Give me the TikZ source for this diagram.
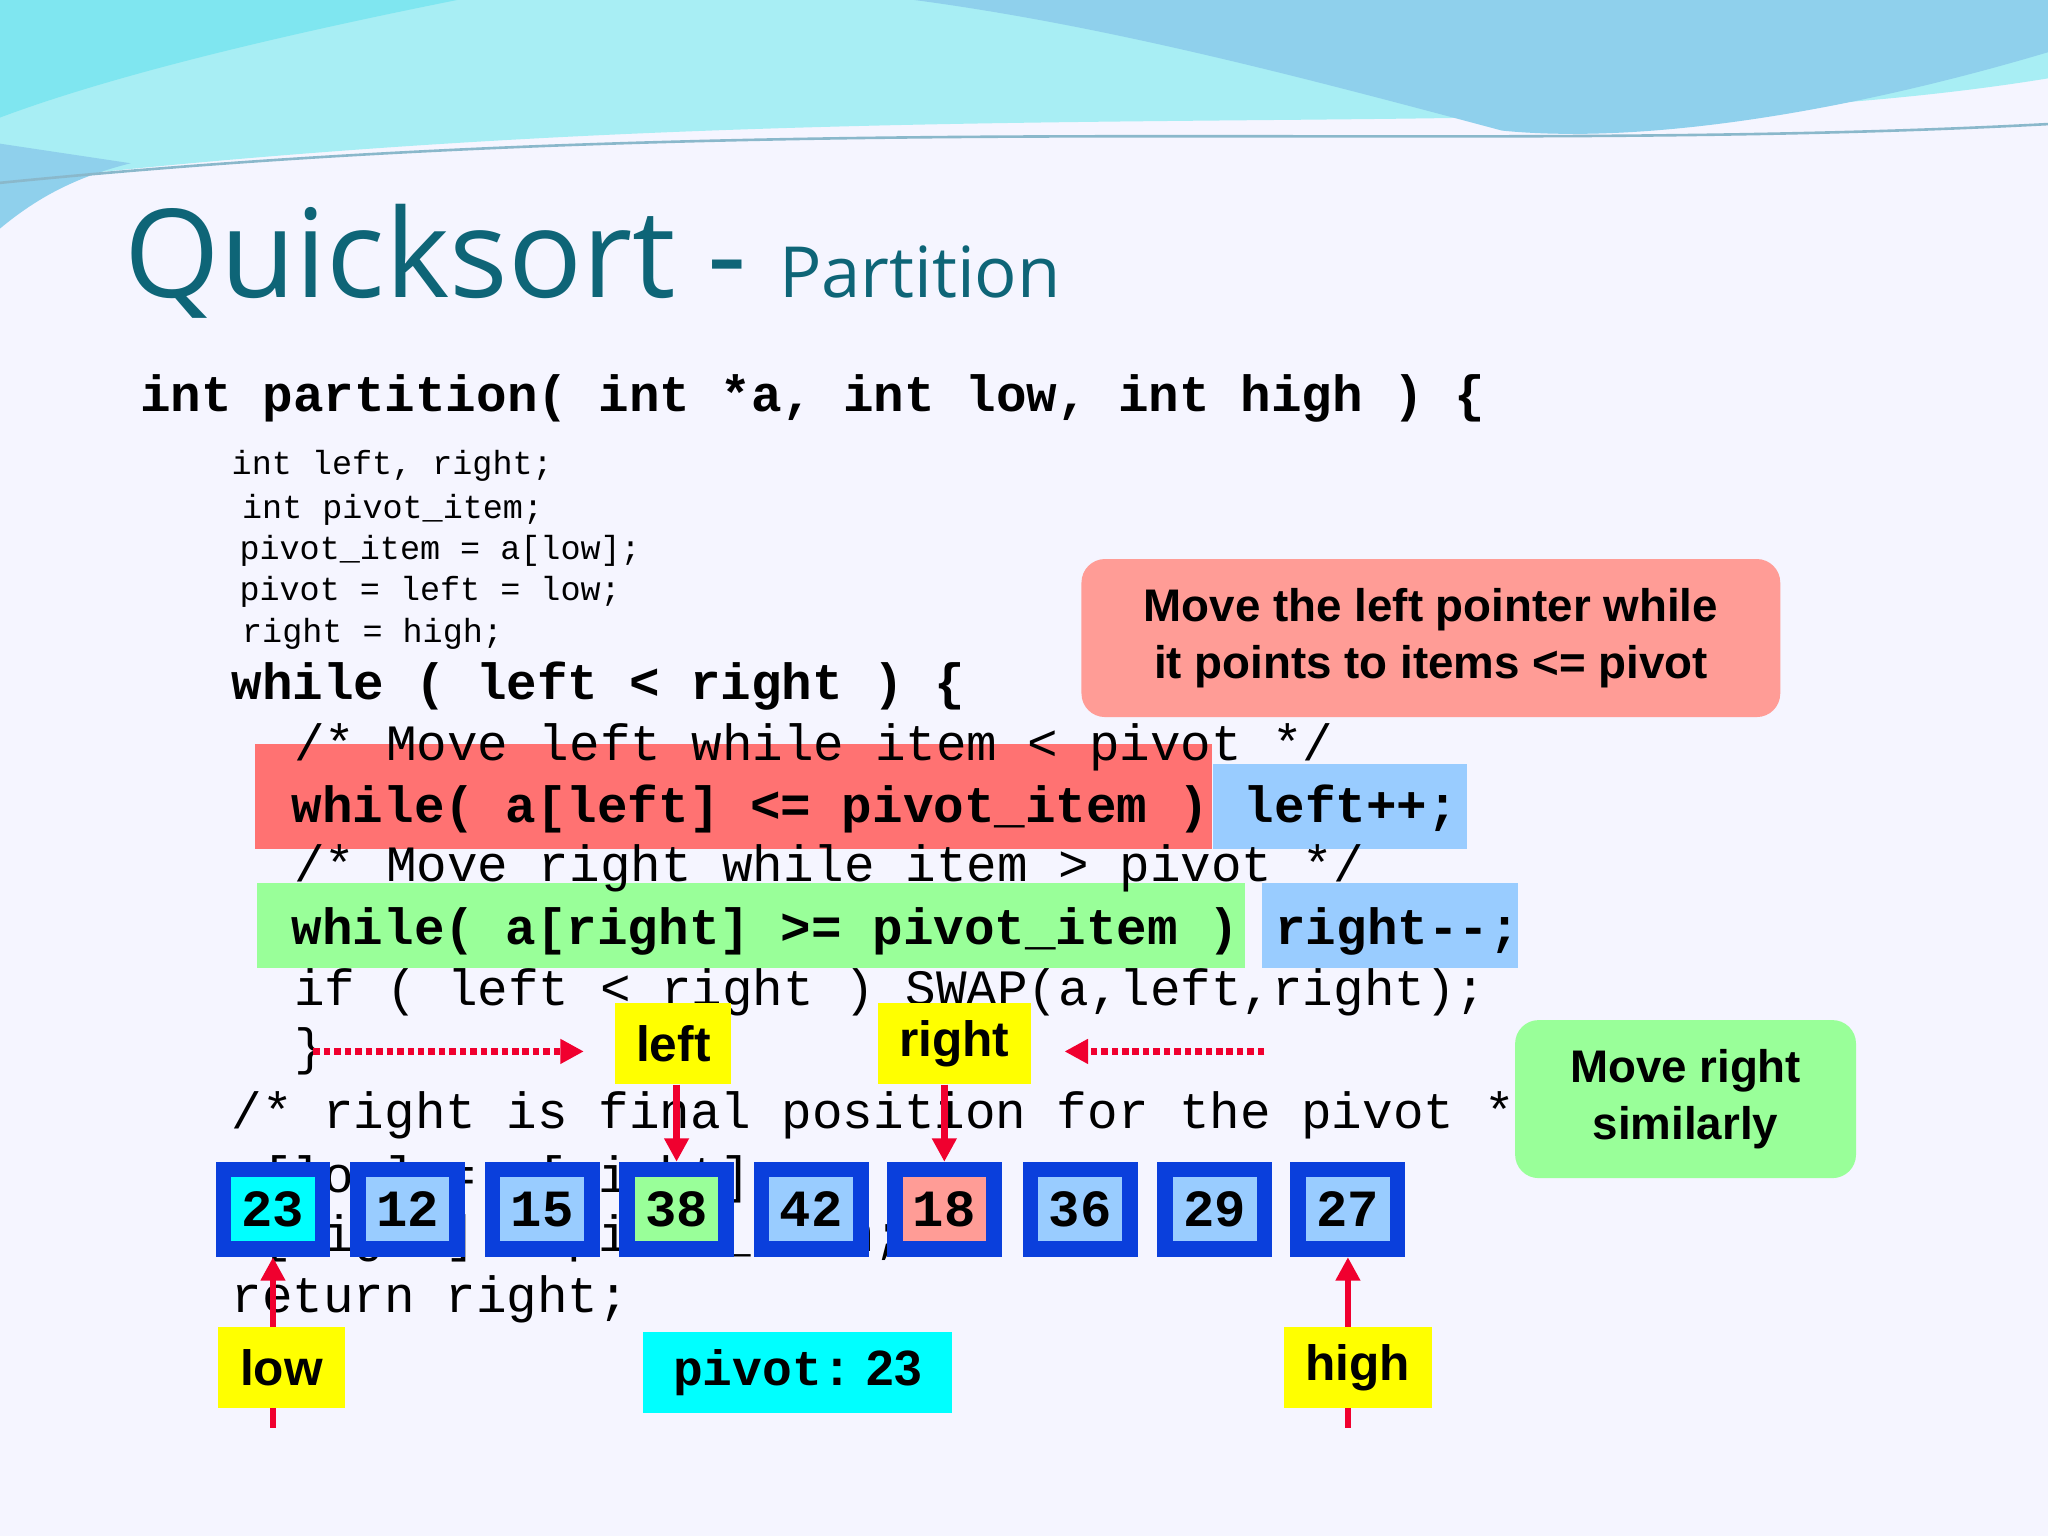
\documentclass[tikz,border=0pt]{standalone}
\usepackage{fontspec}
\usetikzlibrary{arrows.meta}
\setmainfont{Liberation Sans}
\newfontfamily\monof{Liberation Mono}
\newfontfamily\titlef{Open Sans}
\definecolor{teal1}{HTML}{0E6577}
\definecolor{hred}{HTML}{FF7272}
\definecolor{hblue}{HTML}{99CCFF}
\definecolor{hgreen}{HTML}{99FF99}
\definecolor{bblue}{HTML}{0A3FDC}
\definecolor{ared}{HTML}{F0002F}
\definecolor{cpink}{HTML}{FF9C96}
\definecolor{acyan}{HTML}{00FFFF}
\definecolor{ayel}{HTML}{FFFF00}
\definecolor{wave1}{HTML}{A8EEF4}
\definecolor{wave2}{HTML}{8FD0EC}
\definecolor{wave3}{HTML}{7FE6F0}
\begin{document}
\begin{tikzpicture}[x=0.5pt,y=-0.5pt,
  code/.style={anchor=west,inner sep=0pt,font=\monof\fontsize{19.5}{20}\selectfont},
  bcode/.style={code,font=\monof\bfseries\fontsize{19.5}{20}\selectfont},
  scode/.style={anchor=west,inner sep=0pt,font=\monof\fontsize{12.8}{14}\selectfont},
  cell/.style={draw=bblue,line width=6pt,minimum width=38pt,minimum height=30.5pt,inner sep=0pt,font=\monof\bfseries\fontsize{20}{20}\selectfont},
  lab/.style={fill=ayel,inner sep=0pt,font=\bfseries\fontsize{19}{20}\selectfont},
  arr/.style={ared,line width=2.5pt,-{Triangle[length=9pt,width=9pt]}},
  darr/.style={ared,line width=2.5pt,dash pattern=on 2.5pt off 1.5pt,-{Triangle[length=9pt,width=9pt,sep=0pt]}}]
\useasboundingbox (0,0) rectangle (1568,1176);
\fill[white!96!blue] (0,0) rectangle (1568,1176);
% top waves
\fill[wave1] (0,0) -- (1568,0) -- (1568,60) .. controls (1200,120) and (700,60) .. (0,140) -- cycle;
\fill[wave2] (700,0) -- (1568,0) -- (1568,40) .. controls (1400,90) and (1250,110) .. (1150,100) .. controls (1000,60) and (850,20) .. (700,0) -- cycle;
\fill[wave3] (0,0) -- (350,0) .. controls (200,30) and (80,60) .. (0,90) -- cycle;
\fill[wave2] (0,110) -- (0,175) .. controls (30,150) and (60,135) .. (100,125) -- cycle;
\draw[wave2!70!gray,line width=1pt] (0,140) .. controls (600,80) and (1100,120) .. (1568,95);
% title
\node[anchor=base west,inner sep=0pt,text=teal1] (title) at (95,228) {\titlef\fontsize{47}{47}\selectfont Quicksort - {\fontsize{27}{27}\selectfont Partition}};
% highlights
\fill[hred] (195,570) rectangle (928,650);
\fill[hblue] (929,585) rectangle (1123,650);
\fill[hgreen] (197,676) rectangle (953,741);
\fill[hblue] (966,676) rectangle (1162,741);
% code
\node[bcode] (hdr) at (107,305) {int partition( int *a, int low, int high ) \{};
\node[scode] (c1) at (177,357) {int left, right;};
\node[scode] (c2) at (185,390) {int pivot\_item;};
\node[scode] (c3) at (183,422) {pivot\_item = a[low];};
\node[scode] (c4) at (183,453) {pivot = left = low;};
\node[scode] (c5) at (185,485) {right = high;};
\node[bcode] (c6) at (177,525) {while ( left < right ) \{};
\node[code] (c7) at (225,572) {/* Move left while item < pivot */};
\node[bcode] (c8) at (223,619) {while( a[left] <= pivot\_item )};
\node[bcode] (c9) at (952,619) {left++;};
\node[code] (c10) at (225,665) {/* Move right while item > pivot */};
\node[bcode] (c11) at (223,713) {while( a[right] >= pivot\_item )};
\node[bcode] (c12) at (976,713) {right--;};
\node[code] (c13) at (225,760) {if ( left < right ) SWAP(a,left,right);};
\node[code] (c14) at (225,805) {\}};
\node[code] (c15) at (177,854) {/* right is final position for the pivot */};
\node[code] (c16) at (177,903) {a[low] = a[right];};
\node[code] (c17) at (177,948) {a[right] = pivot\_item;};
\node[code] (c18) at (177,995) {return right;};
% array
\node[cell,fill=acyan] (a1) at (209,926) {23};
\node[cell,fill=hblue] (a2) at (312,926) {12};
\node[cell,fill=hblue] (a3) at (415,926) {15};
\node[cell,fill=hgreen] (a4) at (518,926) {38};
\node[cell,fill=hblue] (a5) at (621,926) {42};
\node[cell,fill=cpink] (a6) at (723,926) {18};
\node[cell,fill=hblue] (a7) at (827,926) {36};
\node[cell,fill=hblue] (a8) at (930,926) {29};
\node[cell,fill=hblue] (a9) at (1032,926) {27};
% arrows behind labels
\coordinate (lowb) at (209,1093); \coordinate (highb) at (1032,1093);
\draw[arr] (lowb) -- (a1.south);
\draw[arr] (highb) -- (a9.south);
% labels
\node[lab,minimum width=44.5pt,minimum height=31pt] (lleft) at (515.5,799) {left};
\node[lab,minimum width=58.5pt,minimum height=31pt] (lright) at (730.5,799) {right};
\node[lab,minimum width=48.5pt,minimum height=31pt] (llow) at (215.5,1047) {low};
\node[lab,minimum width=56.5pt,minimum height=31pt] (lhigh) at (1039.5,1047) {high};
\node[fill=acyan,inner sep=0pt,minimum width=118.5pt,minimum height=31pt] (lpiv) at (610.5,1051) {{\monof\bfseries\fontsize{19}{20}\selectfont pivot:}\ \ {\bfseries\fontsize{19}{20}\selectfont 23}};
% callouts
\node[fill=cpink,rounded corners=9pt,minimum width=267.5pt,minimum height=60.5pt,align=center,font=\bfseries\fontsize{17.5}{22}\selectfont] (cb1) at (1095.5,488.5) {Move the left pointer while\\ it points to items <= pivot};
\node[fill=hgreen,rounded corners=9pt,minimum width=130.5pt,minimum height=60.5pt,align=center,font=\bfseries\fontsize{17.5}{22}\selectfont] (cb2) at (1290.5,841.5) {Move right\\ similarly};
% arrows
\coordinate (d1s) at (240,805); \coordinate (d1e) at (447,805);
\coordinate (d2s) at (968,805); \coordinate (d2e) at (815,805);
\draw[darr] (d1s) -- (d1e);
\draw[darr] (d2s) -- (d2e);
\draw[arr] (lleft.south -| a4.north) -- (a4.north);
\draw[arr] (lright.south -| a6.north) -- (a6.north);
\end{tikzpicture}
\end{document}
